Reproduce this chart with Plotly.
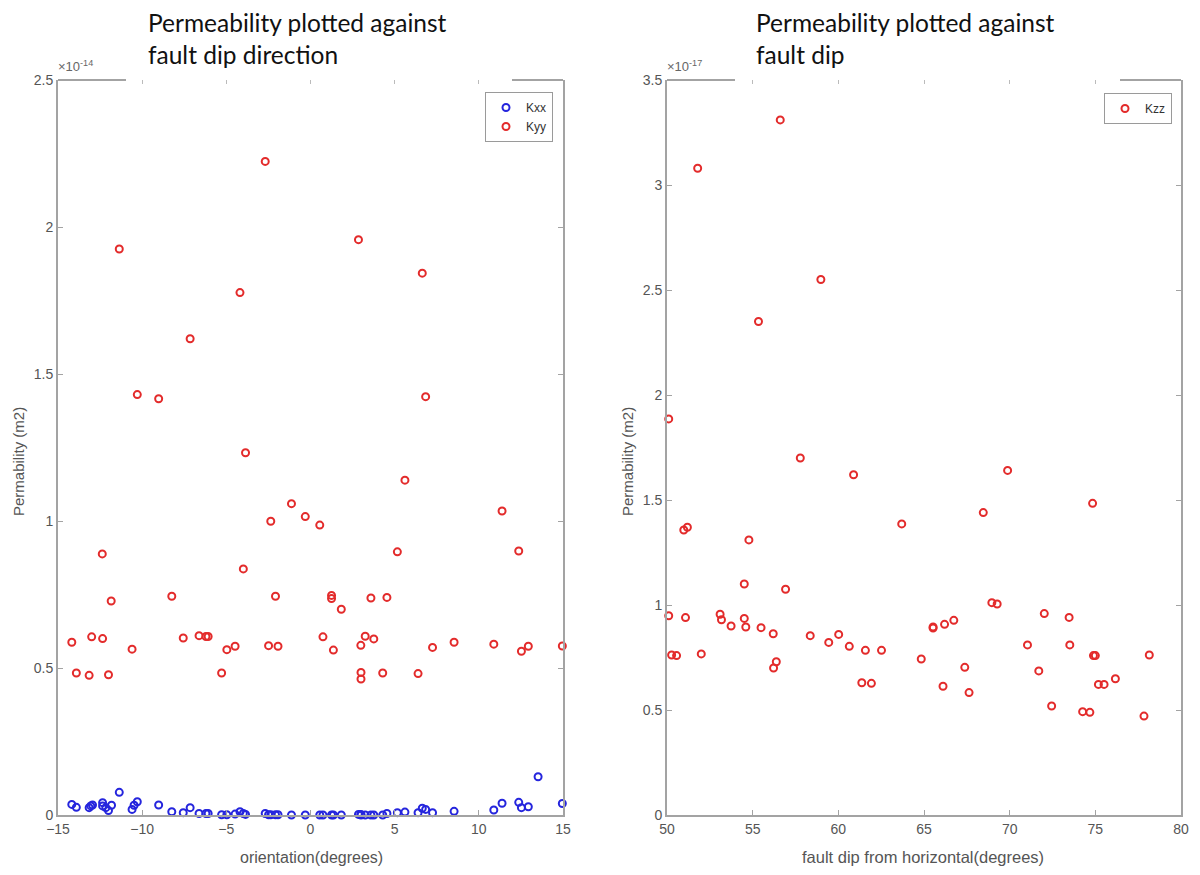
import plotly.graph_objects as go

# ---------------- data ----------------
# Left panel: permeability (units of 1e-14 m2) vs orientation (degrees)
kyy_orient = [-2.69, -11.36, 2.85, 6.64, -4.19, -7.15,
              -10.29, -9.02, 6.84, -3.86, 5.61, -1.13, 11.38, -2.36, -0.31, 0.55,
              -12.37, 5.16, 12.37, -3.99, -11.84, -8.24, -2.08, 1.25, 1.25, 1.83, 3.59, 4.54,
              -14.18, -13.91, -13.15, -13.0, -12.35, -12.0, -10.6, -7.56, -6.62, -6.21, -6.08,
              -5.28, -4.97, -4.48, -2.49, -1.93, 0.74, 1.36, 2.99, 3.0, 3.0, 3.25, 3.76, 4.29,
              6.39, 7.25, 8.53, 10.89, 12.53, 12.94, 14.96]
kyy_val = [2.223, 1.925, 1.957, 1.843, 1.777, 1.62,
           1.43, 1.416, 1.423, 1.232, 1.139, 1.059, 1.034, 0.999, 1.015, 0.986,
           0.888, 0.895, 0.898, 0.837, 0.728, 0.744, 0.744, 0.747, 0.736, 0.70, 0.738, 0.74,
           0.5875, 0.483, 0.475, 0.606, 0.60, 0.477, 0.564, 0.602, 0.61, 0.607, 0.607,
           0.483, 0.5625, 0.574, 0.576, 0.574, 0.606, 0.561, 0.577, 0.485, 0.4625, 0.608, 0.599, 0.483,
           0.481, 0.57, 0.5875, 0.581, 0.557, 0.574, 0.575]

kxx_orient = [-14.18, -13.91, -13.15, -13.05, -12.95, -12.35, -12.35, -12.16, -12.0, -11.82,
              -11.36, -10.6, -10.48, -10.29, -9.02, -8.24, -7.56, -7.15, -6.62, -6.21, -6.08,
              -5.28, -4.97, -4.48, -4.19, -3.99, -3.86, -2.69, -2.49, -2.36, -2.08, -1.93,
              -1.13, -0.31, 0.55, 0.74, 1.25, 1.36, 1.83, 2.85, 2.99, 3.0, 3.25, 3.59, 3.76,
              4.29, 4.54, 5.16, 5.61, 6.39, 6.64, 6.84, 7.25, 8.53, 10.89, 11.38, 12.37,
              12.53, 12.94, 13.52, 14.96]
kxx_val = [0.036, 0.026, 0.025, 0.031, 0.034, 0.042, 0.031, 0.025, 0.015, 0.033,
           0.077, 0.019, 0.033, 0.045, 0.034, 0.011, 0.008, 0.025, 0.005, 0.005, 0.005,
           0.001, 0.001, 0.003, 0.011, 0.005, 0.002, 0.005, 0.001, 0.001, 0.001, 0.001,
           0.0, 0.0, 0.0, 0.0, 0.0, 0.0, 0.0, 0.002, 0.002, 0.0, 0.0, 0.0, 0.0,
           0.0, 0.005, 0.008, 0.01, 0.008, 0.023, 0.019, 0.008, 0.0125, 0.017, 0.04, 0.043,
           0.025, 0.028, 0.13, 0.039]

# Right panel: permeability (units of 1e-17 m2) vs fault dip (degrees)
dip = [51.79, 56.61, 55.34, 58.98, 50.1, 57.78, 60.89, 69.88, 74.84, 68.46, 63.70,
       50.98, 51.19, 54.78, 54.51, 56.92, 68.96, 69.27, 50.1, 51.08, 53.1, 53.18, 54.51,
       53.74, 54.6, 55.49, 56.2, 58.36, 60.02, 65.53, 65.53, 66.2, 66.74, 72.02, 73.47,
       50.27, 50.56, 52.0, 56.22, 56.38, 59.44, 60.64, 61.58, 62.52, 61.37, 61.93, 64.84,
       66.11, 67.38, 67.63, 71.04, 71.7, 72.45, 73.51, 74.26, 74.68, 74.89, 75.0, 75.18,
       75.51, 76.17, 77.84, 78.15]
kzz_val = [3.08, 3.31, 2.35, 2.55, 1.886, 1.70, 1.62, 1.641, 1.484, 1.44, 1.386,
           1.357, 1.370, 1.31, 1.10, 1.075, 1.011, 1.005, 0.949, 0.94, 0.956, 0.93, 0.936,
           0.90, 0.895, 0.892, 0.863, 0.854, 0.86, 0.895, 0.89, 0.908, 0.927, 0.959, 0.941,
           0.762, 0.759, 0.767, 0.70, 0.73, 0.822, 0.803, 0.784, 0.784, 0.63, 0.627, 0.743,
           0.613, 0.703, 0.583, 0.81, 0.686, 0.519, 0.81, 0.492, 0.489, 0.759, 0.759, 0.622,
           0.622, 0.649, 0.471, 0.762]

SCALE_LEFT = 1e-14
SCALE_RIGHT = 1e-17
left_ticks = [0, 0.5, 1, 1.5, 2, 2.5]
left_ticktext = ["0", "0.5", "1", "1.5", "2", "2.5"]
right_ticks = [0, 0.5, 1, 1.5, 2, 2.5, 3, 3.5]
right_ticktext = ["0", "0.5", "1", "1.5", "2", "2.5", "3", "3.5"]
left_xticks = [-15, -10, -5, 0, 5, 10, 15]
right_xticks = [50, 55, 60, 65, 70, 75, 80]

# ---------------- styling ----------------
W, H = 1200, 875
RED = "#e32b2b"
BLUE = "#2525dd"
AXC = "#a3a3a3"
SANS = "Liberation Sans, Arial, sans-serif"
TICKFONT = dict(family=SANS, size=14, color="#555555")

def px_x(p):
    return p / W

def px_y(p):
    return 1 - p / H

ydom = [px_y(815), px_y(80)]
xdom_l = [px_x(58), px_x(563)]
xdom_r = [px_x(667), px_x(1181)]

fig = go.Figure()

mk = dict(symbol="circle-open", size=7, line=dict(width=2))
fig.add_trace(go.Scatter(x=kxx_orient, y=[v * SCALE_LEFT for v in kxx_val], mode="markers",
                         name="Kxx", marker=dict(color=BLUE, **mk), xaxis="x", yaxis="y",
                         legend="legend", cliponaxis=False))
fig.add_trace(go.Scatter(x=kyy_orient, y=[v * SCALE_LEFT for v in kyy_val], mode="markers",
                         name="Kyy", marker=dict(color=RED, **mk), xaxis="x", yaxis="y",
                         legend="legend", cliponaxis=False))
fig.add_trace(go.Scatter(x=dip, y=[v * SCALE_RIGHT for v in kzz_val], mode="markers",
                         name="Kzz", marker=dict(color=RED, **mk), xaxis="x2", yaxis="y2",
                         legend="legend2", cliponaxis=False))
# empty traces to realise the top tick axes
fig.add_trace(go.Scatter(x=[], y=[], xaxis="x3", yaxis="y", showlegend=False, hoverinfo="skip"))
fig.add_trace(go.Scatter(x=[], y=[], xaxis="x4", yaxis="y2", showlegend=False, hoverinfo="skip"))

axis_common = dict(showgrid=False, zeroline=False, ticks="inside", ticklen=5, tickwidth=1,
                   tickcolor=AXC, linecolor=AXC, linewidth=2, tickfont=TICKFONT,
                   automargin=False)
top_common = dict(showticklabels=False, showline=False, showgrid=False, zeroline=False,
                  ticks="inside", ticklen=4, tickcolor="#bbbbbb", automargin=False)

fig.update_layout(
    width=W, height=H, margin=dict(l=0, r=0, t=0, b=0, autoexpand=False),
    paper_bgcolor="white", plot_bgcolor="white",
    xaxis=dict(domain=xdom_l, anchor="y", range=[-15, 15], tickvals=left_xticks,
               showline=True, mirror=False, **axis_common),
    yaxis=dict(domain=ydom, anchor="x", range=[0, 2.5 * SCALE_LEFT],
               tickvals=[t * SCALE_LEFT for t in left_ticks], ticktext=left_ticktext,
               showline=True, mirror="ticks", **axis_common),
    xaxis2=dict(domain=xdom_r, anchor="y2", range=[50, 80], tickvals=right_xticks,
                showline=True, mirror=False, **axis_common),
    yaxis2=dict(domain=ydom, anchor="x2", range=[0, 3.5 * SCALE_RIGHT],
                tickvals=[t * SCALE_RIGHT for t in right_ticks], ticktext=right_ticktext,
                showline=True, mirror="ticks", **axis_common),
    xaxis3=dict(overlaying="x", anchor="y", side="top", range=[-15, 15], tickvals=left_xticks,
                **top_common),
    xaxis4=dict(overlaying="x2", anchor="y2", side="top", range=[50, 80], tickvals=right_xticks,
                **top_common),
    legend=dict(x=px_x(553), y=px_y(92), xanchor="right", yanchor="top",
                bordercolor="#9a9a9a", borderwidth=1, bgcolor="white",
                font=dict(family=SANS, size=12, color="#333333"),
                itemwidth=30, tracegroupgap=0),
    legend2=dict(x=px_x(1172), y=px_y(93), xanchor="right", yanchor="top",
                 bordercolor="#9a9a9a", borderwidth=1, bgcolor="white",
                 font=dict(family=SANS, size=12, color="#333333"),
                 itemwidth=30),
)

# partial top borders (the title box hides the middle of the top edge)
for x0, x1 in [(58, 126), (512, 563), (667, 735), (1120, 1181)]:
    fig.add_shape(type="line", xref="paper", yref="paper", x0=px_x(x0), x1=px_x(x1),
                  y0=px_y(80), y1=px_y(80), line=dict(color=AXC, width=2))

TITLEFONT = dict(family="Lato, Open Sans, sans-serif", size=24.5, color="#111111")
AXTITLEFONT = dict(family=SANS, size=16, color="#555555")
YTITLEFONT = dict(family=SANS, size=15, color="#555555")
EXPFONT = dict(family=SANS, size=13, color="#666666")
annotations = [
    dict(text="Permeability plotted against<br>fault dip direction", x=px_x(146), y=px_y(6),
         xanchor="left", yanchor="top", align="left", font=TITLEFONT),
    dict(text="Permeability plotted against<br>fault dip", x=px_x(754), y=px_y(6),
         xanchor="left", yanchor="top", align="left", font=TITLEFONT),
    dict(text="×10<sup>-14</sup>", x=px_x(56), y=px_y(76), xanchor="left", yanchor="bottom",
         font=EXPFONT),
    dict(text="×10<sup>-17</sup>", x=px_x(665), y=px_y(76), xanchor="left", yanchor="bottom",
         font=EXPFONT),
    dict(text="orientation(degrees)", x=px_x(311), y=px_y(857), xanchor="center", yanchor="middle",
         font=AXTITLEFONT),
    dict(text="fault dip from horizontal(degrees)", x=px_x(923), y=px_y(857), xanchor="center",
         yanchor="middle", font=dict(family=SANS, size=16.5, color="#555555")),
    dict(text="Permability (m2)", x=px_x(18), y=px_y(462), textangle=-90, xanchor="center",
         yanchor="middle", font=YTITLEFONT),
    dict(text="Permability (m2)", x=px_x(627), y=px_y(462), textangle=-90, xanchor="center",
         yanchor="middle", font=YTITLEFONT),
]
for a in annotations:
    a.update(xref="paper", yref="paper", showarrow=False)
fig.update_layout(annotations=annotations)

fig.write_html("out.html")
